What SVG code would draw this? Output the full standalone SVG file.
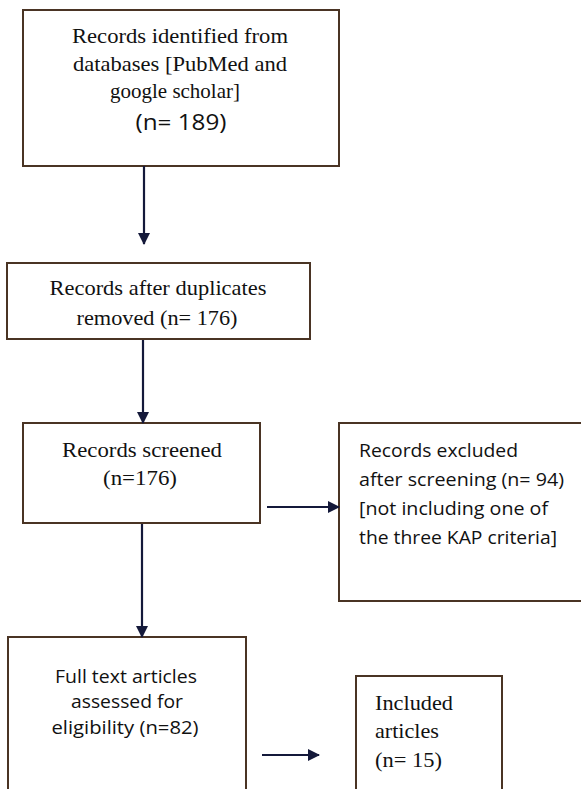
<svg xmlns="http://www.w3.org/2000/svg" width="581" height="789" viewBox="0 0 581 789">
<style>
.box{fill:#fff;stroke:#4a3424;stroke-width:2}
.con{stroke:#14193a;stroke-width:2.2;fill:none}
.serif{font-family:"Liberation Serif","DejaVu Serif",serif;fill:#111}
.sans{font-family:"Open Sans","Noto Sans","Liberation Sans",sans-serif;fill:#111}
</style>
<defs>
<marker id="ah" markerWidth="12" markerHeight="12" refX="11" refY="6" orient="auto" markerUnits="userSpaceOnUse" viewBox="0 0 12 12">
<path d="M0,0 L12,6 L0,12 Z" fill="#14193a"/>
</marker>
</defs>
<rect width="581" height="789" fill="#fff"/>
<g id="n1">
<rect class="box" x="23" y="10" width="316" height="156"/>
<text class="serif" font-size="22" text-anchor="middle" lengthAdjust="spacingAndGlyphs">
<tspan x="180" y="43" textLength="216" lengthAdjust="spacingAndGlyphs">Records identified from</tspan>
</text>
<text class="serif" font-size="22" text-anchor="middle" x="180" y="71" textLength="214" lengthAdjust="spacingAndGlyphs">databases [PubMed and</text>
<text class="serif" font-size="22" text-anchor="middle" x="175" y="98" textLength="130" lengthAdjust="spacingAndGlyphs">google scholar]</text>
<text class="sans" font-size="21" text-anchor="middle" x="181" y="130" textLength="91" lengthAdjust="spacingAndGlyphs">(n= 189)</text>
</g>
<g id="n2">
<rect class="box" x="7" y="263" width="303" height="76"/>
<text class="serif" font-size="22" text-anchor="middle" x="158" y="295" textLength="217" lengthAdjust="spacingAndGlyphs">Records after duplicates</text>
<text class="serif" font-size="22" text-anchor="middle" x="157" y="325" textLength="161" lengthAdjust="spacingAndGlyphs">removed (n= 176)</text>
</g>
<g id="n3">
<rect class="box" x="23" y="423" width="237" height="100"/>
<text class="serif" font-size="22" text-anchor="middle" x="142" y="457" textLength="160" lengthAdjust="spacingAndGlyphs">Records screened</text>
<text class="serif" font-size="22" text-anchor="middle" x="140" y="485" textLength="74" lengthAdjust="spacingAndGlyphs">(n=176)</text>
</g>
<g id="n4">
<rect class="box" x="339" y="423" width="260" height="178"/>
<text class="sans" font-size="18" x="359" y="457" textLength="159" lengthAdjust="spacingAndGlyphs">Records excluded</text>
<text class="sans" font-size="18" x="359" y="486" textLength="205" lengthAdjust="spacingAndGlyphs">after screening (n= 94)</text>
<text class="sans" font-size="18" x="359" y="515" textLength="189" lengthAdjust="spacingAndGlyphs">[not including one of</text>
<text class="sans" font-size="18" x="359" y="544" textLength="198" lengthAdjust="spacingAndGlyphs">the three KAP criteria]</text>
</g>
<g id="n5">
<rect class="box" x="8" y="637" width="238" height="170"/>
<text class="sans" font-size="18" text-anchor="middle" x="126" y="683" textLength="142" lengthAdjust="spacingAndGlyphs">Full text articles</text>
<text class="sans" font-size="18" text-anchor="middle" x="127" y="708" textLength="112" lengthAdjust="spacingAndGlyphs">assessed for</text>
<text class="sans" font-size="18" text-anchor="middle" x="125" y="734" textLength="147" lengthAdjust="spacingAndGlyphs">eligibility (n=82)</text>
</g>
<g id="n6">
<rect class="box" x="356" y="676" width="146" height="130"/>
<text class="serif" font-size="22" x="375" y="710" textLength="78" lengthAdjust="spacingAndGlyphs">Included</text>
<text class="serif" font-size="22" x="375" y="738" textLength="64" lengthAdjust="spacingAndGlyphs">articles</text>
<text class="serif" font-size="22" x="375" y="767" textLength="67" lengthAdjust="spacingAndGlyphs">(n= 15)</text>
</g>
<g id="connectors">
<line class="con" x1="144" y1="166" x2="144" y2="244" marker-end="url(#ah)"/>
<line class="con" x1="143" y1="340" x2="143" y2="423" marker-end="url(#ah)"/>
<line class="con" x1="142" y1="524" x2="142" y2="637" marker-end="url(#ah)"/>
<line class="con" x1="267" y1="507" x2="339" y2="507" marker-end="url(#ah)"/>
<line class="con" x1="262" y1="755" x2="319" y2="755" marker-end="url(#ah)"/>
</g>
</svg>
